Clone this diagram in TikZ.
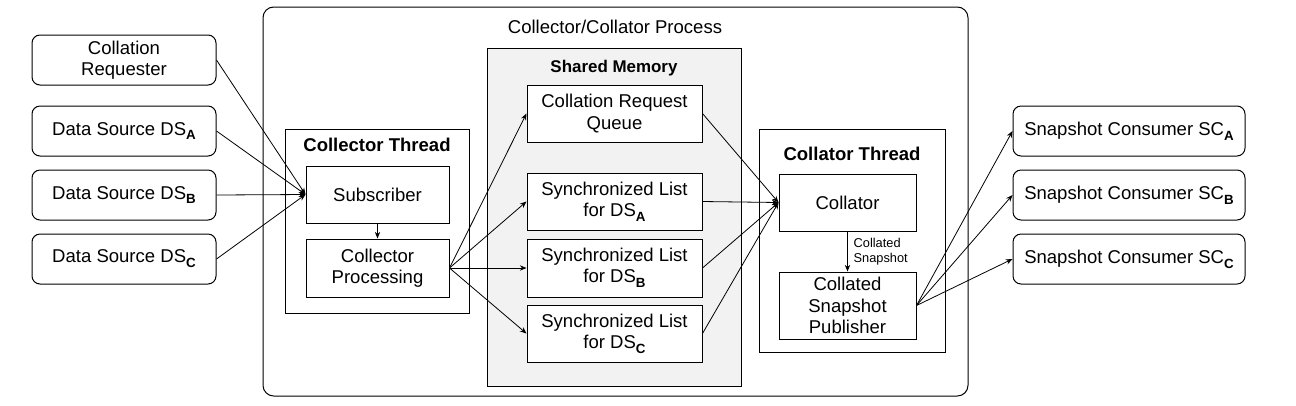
\documentclass[tikz,border=0pt]{standalone}
\usepackage{fontspec}
\setmainfont{Liberation Sans}
\usetikzlibrary{arrows.meta}

\newcommand{\sub}[1]{\raisebox{-0.5ex}{\fontsize{10}{10}\selectfont\bfseries #1}}

\begin{document}
\begin{tikzpicture}[x=0.75pt,y=-0.75pt,
    font=\fontsize{13.9}{16}\selectfont,
    ext/.style={draw,rounded corners=6pt,line width=0.75pt,minimum width=138pt,minimum height=37.5pt,align=center,inner sep=1pt},
    box/.style={draw,line width=0.75pt,fill=white,align=center,inner sep=1pt},
    title/.style={font=\fontsize{13.9}{16}\selectfont\bfseries},
    flow/.style={-{Stealth[length=5pt,width=4pt]},line width=0.6pt}]
    \useasboundingbox (0,0) rectangle (1296,405);
    % process and thread frames
    \draw[line width=0.75pt,rounded corners=8pt] (263,7) rectangle (968,396);
    \node (proc) at (615,27) {Collector/Collator Process};
    \draw[line width=0.75pt] (285,129) rectangle (469,313);
    \node[title] (ctitle) at (377,145) {Collector Thread};
    \draw[line width=0.75pt,fill=black!5] (487,48) rectangle (741,386);
    \node[title,font=\fontsize{12.7}{15}\selectfont\bfseries] (smem) at (614,68) {Shared Memory};
    \draw[line width=0.75pt] (759,129) rectangle (945,352);
    \node[title] (ktitle) at (852,154) {Collator Thread};
    % outside boxes
    \node[ext] (req) at (124,60) {Collation\\Requester};
    \node[ext] (dsa) at (124,131) {Data Source DS\sub{A}};
    \node[ext] (dsb) at (124,195) {Data Source DS\sub{B}};
    \node[ext] (dsc) at (124,259) {Data Source DS\sub{C}};
    \node[ext,minimum width=174pt] (sca) at (1129,131) {Snapshot Consumer SC\sub{A}};
    \node[ext,minimum width=174pt] (scb) at (1129,195) {Snapshot Consumer SC\sub{B}};
    \node[ext,minimum width=174pt] (scc) at (1129,259) {Snapshot Consumer SC\sub{C}};
    % collector
    \node[box,minimum width=107.25pt,minimum height=42.75pt] (subs) at (377.5,194.5) {Subscriber};
    \node[box,minimum width=107.25pt,minimum height=43.5pt] (cproc) at (377.5,268) {Collector\\Processing};
    % shared memory
    \node[box,minimum width=131.25pt,minimum height=42.75pt] (queue) at (614.5,113.5) {Collation Request\\Queue};
    \node[box,minimum width=131.25pt,minimum height=42.75pt] (lista) at (614.5,201.5) {Synchronized List\\for DS\sub{A}};
    \node[box,minimum width=131.25pt,minimum height=43.5pt] (listb) at (614.5,268) {Synchronized List\\for DS\sub{B}};
    \node[box,minimum width=131.25pt,minimum height=42.75pt] (listc) at (614.5,333.5) {Synchronized List\\for DS\sub{C}};
    % collator
    \node[box,minimum width=102.75pt,minimum height=42.75pt] (coll) at (847.5,202.5) {Collator};
    \node[box,minimum width=102.75pt,minimum height=50.25pt] (pub) at (847.5,305.5) {Collated\\Snapshot\\Publisher};

    \draw[flow] (req.east) -- (subs.west);
    \draw[flow] (dsa.east) -- (subs.west);
    \draw[flow] (dsb.east) -- (subs.west);
    \draw[flow] (dsc.east) -- (subs.west);
    \draw[flow] (subs) -- (cproc);
    \draw[flow] (cproc.east) -- (queue.west);
    \draw[flow] (cproc.east) -- (lista.west);
    \draw[flow] (cproc.east) -- (listb.west);
    \draw[flow] (cproc.east) -- (listc.west);
    \draw[flow] (queue.east) -- (coll.west);
    \draw[flow] (lista.east) -- (coll.west);
    \draw[flow] (listb.east) -- (coll.west);
    \draw[flow] (listc.east) -- (coll.west);
    \draw[flow] (coll) -- node[right,align=left,font=\fontsize{9.6}{11}\selectfont,xshift=1pt] {Collated\\Snapshot} (pub);
    \draw[flow] (pub.east) -- (sca.west);
    \draw[flow] (pub.east) -- (scb.west);
    \draw[flow] (pub.east) -- (scc.west);
\end{tikzpicture}
\end{document}
